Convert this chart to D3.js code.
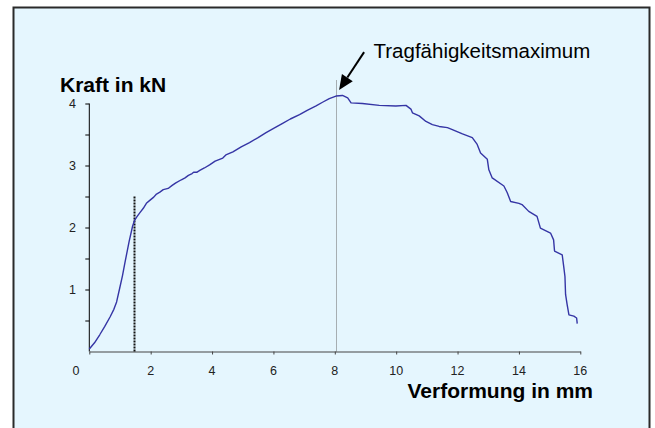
<!DOCTYPE html>
<html>
<head>
<meta charset="utf-8">
<script src="https://cdn.jsdelivr.net/npm/d3@7/dist/d3.min.js"></script>
<style>
html,body{margin:0;padding:0;background:#fff;}
svg{display:block;}
</style>
</head>
<body>
<svg id="chart" width="655" height="428"></svg>
<script>
// Data
const verformung = [0.00,0.17,0.34,0.50,0.68,0.80,0.89,0.99,1.08,1.16,1.30,1.41,1.48,1.56,1.65,1.76,1.86,2.00,2.10,2.19,2.30,2.41,2.57,2.70,2.82,3.00,3.12,3.23,3.35,3.40,3.50,3.60,3.75,3.92,4.10,4.35,4.45,4.68,4.95,5.22,5.50,5.76,6.05,6.30,6.55,6.85,7.10,7.39,7.60,7.82,8.04,8.25,8.42,8.53,8.90,9.45,9.99,10.32,10.48,10.53,10.75,10.97,11.18,11.40,11.67,11.83,12.16,12.48,12.64,12.75,12.97,13.02,13.13,13.51,13.62,13.73,14.00,14.10,14.32,14.59,14.70,15.03,15.13,15.16,15.41,15.46,15.50,15.52,15.57,15.63,15.79,15.88,15.90];
const kraft      = [0.04,0.14,0.27,0.40,0.56,0.68,0.80,1.02,1.22,1.43,1.78,2.02,2.12,2.18,2.24,2.31,2.39,2.45,2.49,2.54,2.57,2.61,2.63,2.68,2.72,2.77,2.80,2.84,2.87,2.89,2.89,2.92,2.96,3.01,3.07,3.12,3.17,3.22,3.30,3.37,3.45,3.53,3.61,3.68,3.75,3.82,3.89,3.96,4.02,4.08,4.12,4.13,4.09,4.01,4.00,3.97,3.96,3.97,3.91,3.85,3.80,3.71,3.66,3.63,3.61,3.58,3.51,3.45,3.34,3.20,3.10,2.93,2.80,2.67,2.56,2.42,2.39,2.37,2.26,2.18,1.99,1.91,1.80,1.62,1.56,1.37,1.21,0.92,0.76,0.59,0.57,0.54,0.45];
const xTicks = [0,2,4,6,8,10,12,14,16];
const yMajorTicks = [1,2,3,4];
const yMinorTicks = [0.5,1,1.5,2,2.5,3,3.5,4];
const markerLines = [{x:1.45, top:2.51, dark:true},{x:8.03, top:4.38, dark:false}];
const maxPoint = {x:8.14, y:4.2};

const svg = d3.select("#chart");
const x = d3.scaleLinear().domain([0,16]).range([89.3,580.3]);
const y = d3.scaleLinear().domain([0,4]).range([351.5,103.5]);

// background box
svg.append("rect").attr("x",13.5).attr("y",7.5).attr("width",636).attr("height",430)
  .attr("fill","#e5f6fe").attr("stroke","#2a2a2a").attr("stroke-width",2);

// y axis
const yAxis = svg.append("g").attr("transform",`translate(${x(0)},0)`)
  .call(d3.axisLeft(y).tickValues(yMinorTicks).tickSize(4).tickSizeOuter(0).tickFormat(""));
yAxis.select(".domain").attr("stroke","#000").attr("d",`M0,${y(0)}V${y(4)}`);
yAxis.selectAll(".tick line").attr("stroke","#000");
svg.append("g").selectAll("text").data(yMajorTicks).join("text")
  .attr("x",76).attr("y",d=>y(d)+4.5).attr("text-anchor","end")
  .attr("font-family","Arial, Liberation Sans, sans-serif").attr("font-size",12.5).attr("fill","#222")
  .text(d=>d);

// x axis
const xAxis = svg.append("g").attr("transform",`translate(0,${y(0)})`)
  .call(d3.axisBottom(x).tickValues(xTicks).tickSize(3).tickSizeOuter(0).tickFormat(""));
xAxis.select(".domain").attr("stroke","#444");
xAxis.selectAll(".tick line").attr("stroke","#444");
svg.append("g").selectAll("text").data(xTicks).join("text")
  .attr("x",d=> d===0 ? 76 : x(d)).attr("y",375)
  .attr("text-anchor","middle")
  .attr("font-family","Arial, Liberation Sans, sans-serif").attr("font-size",12.5).attr("fill","#222")
  .text(d=>d);

// dotted marker lines
svg.append("g").selectAll("line").data(markerLines).join("line")
  .attr("x1",d=>Math.round(x(d.x))+0.5).attr("x2",d=>Math.round(x(d.x))+0.5)
  .attr("y1",d=>y(0)).attr("y2",d=>y(d.top))
  .attr("stroke",d=>d.dark?"#111":"#666")
  .attr("stroke-width",d=>d.dark?2:1)
  .attr("stroke-dasharray",d=>d.dark?"2,1":"1,1");

// curve
const pts = verformung.map((v,i)=>[v,kraft[i]]);
svg.append("path").datum(pts)
  .attr("fill","none").attr("stroke","#3535a5").attr("stroke-width",1.4)
  .attr("stroke-linejoin","round")
  .attr("d", d3.line().x(d=>x(d[0])).y(d=>y(d[1])));

// titles
svg.append("text").attr("x",60).attr("y",92)
  .attr("font-family","Arial, Liberation Sans, sans-serif").attr("font-weight","bold")
  .attr("font-size",21).attr("fill","#000").text("Kraft in kN");
svg.append("text").attr("x",593).attr("y",398).attr("text-anchor","end")
  .attr("font-family","Arial, Liberation Sans, sans-serif").attr("font-weight","bold")
  .attr("font-size",21).attr("fill","#000").text("Verformung in mm");
svg.append("text").attr("x",373.5).attr("y",57.5)
  .attr("font-family","Arial, Liberation Sans, sans-serif")
  .attr("font-size",20.5).attr("fill","#000").text("Tragfähigkeitsmaximum");

// arrow annotation
const tipX = x(maxPoint.x), tipY = y(maxPoint.y) - 1;
const tailX = tipX + 25, tailY = tipY - 38;
const ang = Math.atan2(tipY - tailY, tipX - tailX);
const hl = 15, hw = 6.5;
const bx = tipX - hl*Math.cos(ang), by = tipY - hl*Math.sin(ang);
svg.append("line").attr("x1",tailX).attr("y1",tailY).attr("x2",bx).attr("y2",by)
  .attr("stroke","#000").attr("stroke-width",2);
svg.append("path")
  .attr("d",`M${tipX},${tipY}L${bx + hw*Math.sin(ang)},${by - hw*Math.cos(ang)}L${bx - hw*Math.sin(ang)},${by + hw*Math.cos(ang)}Z`)
  .attr("fill","#000");
</script>
</body>
</html>
